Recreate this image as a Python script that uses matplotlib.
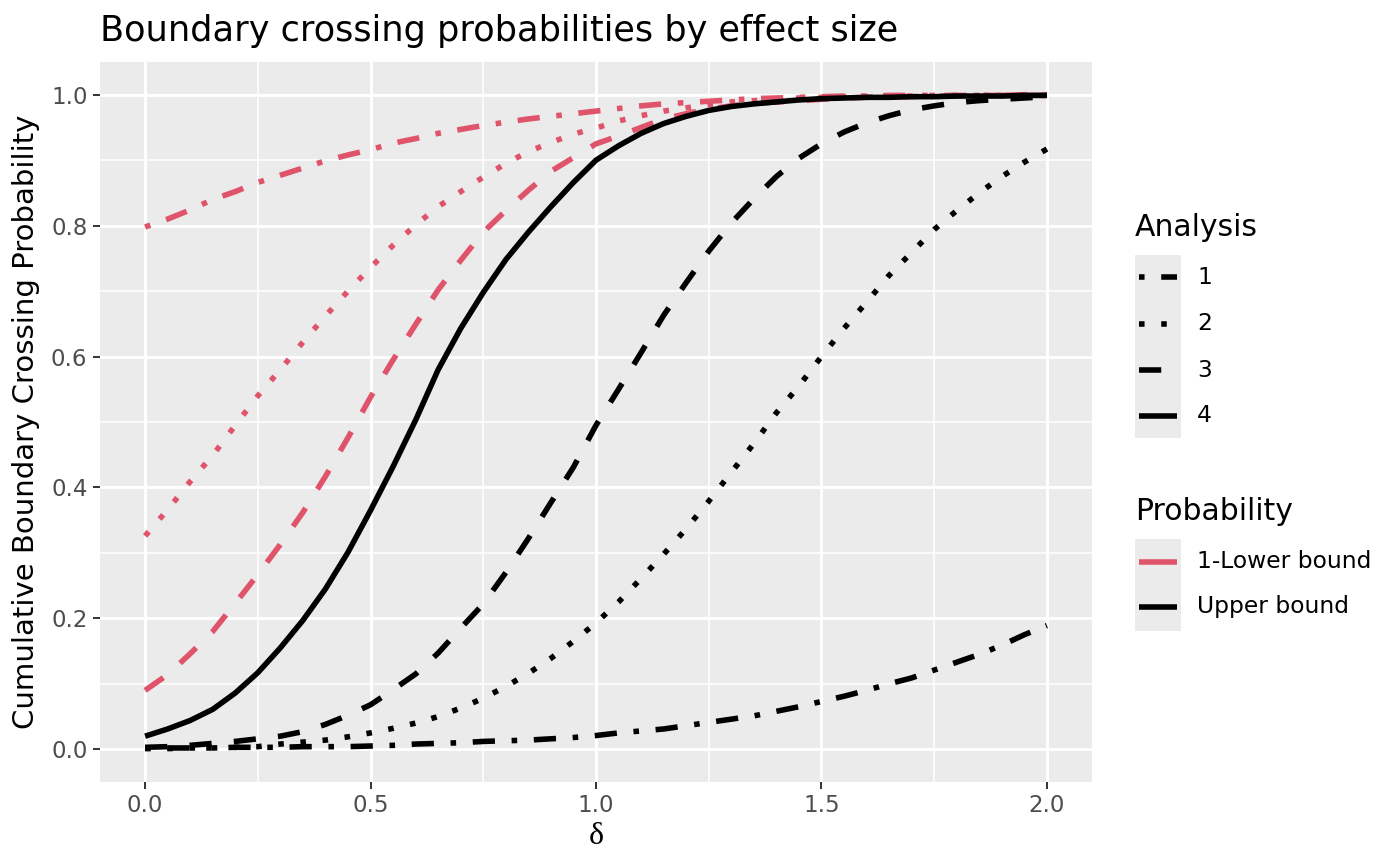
import matplotlib
matplotlib.use("Agg")
import matplotlib.pyplot as plt
from matplotlib.lines import Line2D
from matplotlib.patches import Rectangle

# effect size grid, 0 to 2 by 0.05
delta = [0.00, 0.05, 0.10, 0.15, 0.20, 0.25, 0.30, 0.35, 0.40, 0.45, 0.50,
         0.55, 0.60, 0.65, 0.70, 0.75, 0.80, 0.85, 0.90, 0.95, 1.00,
         1.05, 1.10, 1.15, 1.20, 1.25, 1.30, 1.35, 1.40, 1.45, 1.50,
         1.55, 1.60, 1.65, 1.70, 1.75, 1.80, 1.85, 1.90, 1.95, 2.00]

# upper bound crossing, cumulative, by analysis
upper_1 = [.002, .002, .002, .002, .003, .003, .003, .004, .004, .004, .005,
           .006, .008, .009, .010, .012, .013, .014, .016, .018, .021,
           .025, .028, .031, .036, .041, .046, .051, .058, .065, .073,
           .081, .090, .100, .109, .121, .133, .145, .159, .175, .189]
upper_2 = [.001, .001, .002, .002, .003, .004, .008, .011, .014, .019, .025,
           .032, .040, .050, .063, .078, .096, .116, .139, .165, .193,
           .225, .261, .298, .337, .379, .423, .467, .514, .555, .600,
           .643, .683, .724, .759, .794, .823, .850, .875, .897, .917]
upper_3 = [.003, .004, .006, .009, .012, .016, .020, .027, .038, .052, .068,
           .091, .115, .147, .185, .222, .270, .322, .377, .431, .495,
           .550, .606, .663, .713, .761, .804, .841, .875, .903, .925,
           .943, .957, .968, .977, .983, .988, .991, .993, .995, .997]
upper_4 = [.020, .031, .044, .061, .086, .117, .155, .197, .245, .301, .365,
           .432, .503, .580, .643, .698, .748, .790, .829, .866, .900,
           .922, .941, .956, .967, .976, .982, .986, .989, .992, .994,
           .995, .996, .996, .997, .997, .998, .998, .998, .999, .999]

# 1 - lower bound crossing, by analysis
lower_1 = [.798, .810, .824, .840, .852, .866, .877, .888, .899, .908, .916,
           .926, .933, .941, .947, .953, .958, .963, .967, .971, .975,
           .979, .983, .986, .988, .990, .992, .994, .995, .996, .997,
           .998, .998, .999, .999, .999, .999, .999, .999, 1.0, 1.0]
lower_2 = [.326, .366, .409, .449, .495, .540, .580, .622, .662, .700, .736,
           .770, .801, .829, .852, .874, .895, .913, .927, .940, .949,
           .960, .968, .975, .980, .985, .989, .991, .993, .995, .996,
           .997, .997, .998, .998, .999, .999, .999, .999, .999, .999]
lower_3 = [.090, .114, .146, .180, .223, .267, .313, .362, .417, .476, .538,
           .595, .649, .702, .747, .790, .823, .854, .883, .904, .925,
           .937, .950, .963, .971, .978, .983, .987, .989, .991, .993,
           .995, .996, .997, .997, .998, .998, .999, .999, .999, .999]

analyses = ["1", "2", "3", "4"]
prob_labels = ["1-Lower bound", "Upper bound"]

RED = "#DF536B"
LW = 4.0
styles = {"1": (0, (1, 3, 4, 3)), "2": (0, (1, 3)), "3": (0, (4, 4)), "4": "solid"}

W, H = 1400, 866
fig = plt.figure(figsize=(14, 8.66), dpi=100)
ax = fig.add_axes([100 / W, 1 - 782 / H, 992 / W, 720 / H])
ax.set_facecolor("#EBEBEB")
for s in ax.spines.values():
    s.set_visible(False)

ax.set_xlim(-0.1, 2.1)
ax.set_ylim(-0.05, 1.05)
ax.set_xticks([0, 0.5, 1.0, 1.5, 2.0])
ax.set_xticklabels(["0.0", "0.5", "1.0", "1.5", "2.0"])
ax.set_yticks([0, 0.2, 0.4, 0.6, 0.8, 1.0])
ax.set_yticklabels(["0.0", "0.2", "0.4", "0.6", "0.8", "1.0"])
ax.set_xticks([0.25, 0.75, 1.25, 1.75], minor=True)
ax.set_yticks([0.1, 0.3, 0.5, 0.7, 0.9], minor=True)
ax.grid(which="major", color="white", lw=2.1)
ax.grid(which="minor", color="white", lw=1.1)
ax.set_axisbelow(True)
ax.tick_params(which="major", length=5, width=1.4, color="#333333",
               labelsize=16.5, labelcolor="#4D4D4D", pad=4)
ax.tick_params(which="minor", length=0)

# lower bound curves first, upper bound on top
for a, ys in zip(analyses[:3], [lower_1, lower_2, lower_3]):
    ax.plot(delta, ys, color=RED, lw=LW, linestyle=styles[a],
            dash_capstyle="butt", solid_capstyle="butt")
for a, ys in zip(analyses, [upper_1, upper_2, upper_3, upper_4]):
    ax.plot(delta, ys, color="black", lw=LW, linestyle=styles[a],
            dash_capstyle="butt", solid_capstyle="butt")

ax.set_xlabel("δ", family=["Liberation Serif", "DejaVu Serif"], fontsize=23, labelpad=3)
ax.set_ylabel("Cumulative Boundary Crossing Probability", fontsize=21, labelpad=8)
fig.text(100 / W, 1 - 41 / H, "Boundary crossing probabilities by effect size",
         fontsize=25.3, ha="left", va="baseline")


def fx(x):
    return x / W


def fy(y):
    return 1 - y / H


# legend: Analysis
fig.text(fx(1135), fy(228), "Analysis", fontsize=21.5, ha="left", va="center")
fig.add_artist(Rectangle((fx(1135), fy(438)), 46 / W, 183 / H,
                         transform=fig.transFigure, color="#EBEBEB", lw=0))
for a, yk in zip(analyses, [277, 324, 370, 416]):
    fig.add_artist(Line2D([fx(1139), fx(1177)], [fy(yk), fy(yk)], transform=fig.transFigure,
                          color="black", lw=LW, linestyle=styles[a], dash_capstyle="butt",
                          solid_capstyle="butt"))
    fig.text(fx(1197), fy(yk), a, fontsize=16.8, ha="left", va="center")

# legend: Probability
fig.text(fx(1135), fy(511), "Probability", fontsize=21.5, ha="left", va="center")
fig.add_artist(Rectangle((fx(1135), fy(631)), 46 / W, 92 / H,
                         transform=fig.transFigure, color="#EBEBEB", lw=0))
for lab, col, yk in zip(prob_labels, [RED, "black"], [562, 607]):
    fig.add_artist(Line2D([fx(1139), fx(1177)], [fy(yk), fy(yk)], transform=fig.transFigure,
                          color=col, lw=LW, solid_capstyle="butt"))
    fig.text(fx(1197), fy(yk), lab, fontsize=16.8, ha="left", va="center")

fig.savefig("out.png", dpi=100, facecolor="white")
